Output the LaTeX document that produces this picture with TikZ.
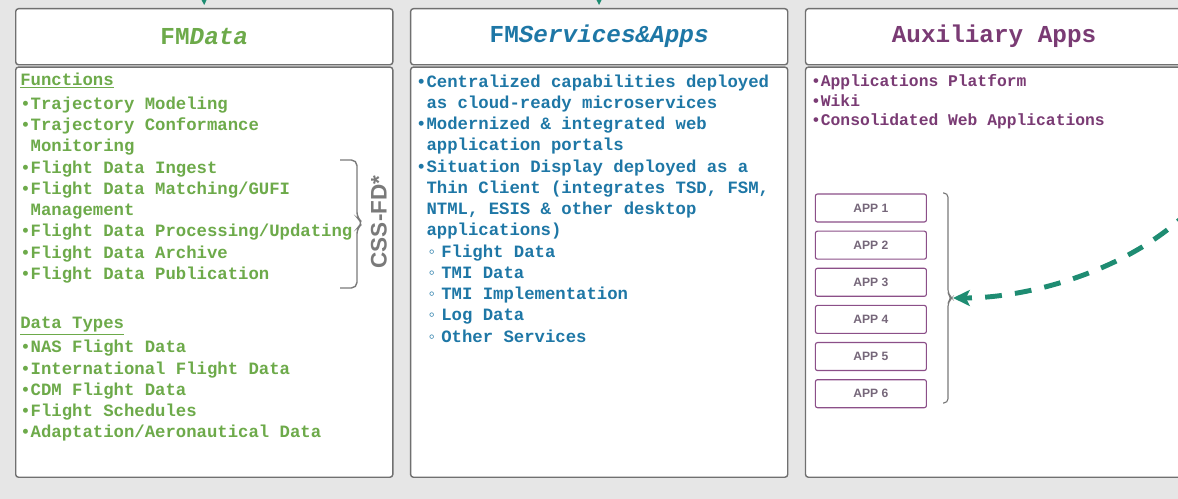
\documentclass[tikz,border=0pt]{standalone}
\usepackage{fontspec}
\setmonofont{Liberation Mono}
\setsansfont{Liberation Sans}
\usepackage{xcolor}
\usetikzlibrary{arrows.meta, positioning}

\definecolor{fundo}{HTML}{E6E6E6}
\definecolor{borda}{HTML}{707070}
\definecolor{verde}{HTML}{6DAA4A}
\definecolor{azul}{HTML}{1E77A6}
\definecolor{roxo}{HTML}{7A3B74}
\definecolor{roxoapp}{HTML}{8B4F88}
\definecolor{cinzaapp}{HTML}{76677A}
\definecolor{verdeseta}{HTML}{1E8C72}
\definecolor{chave}{HTML}{7A7A7A}

\newcommand{\ind}{\hspace*{0.6em}}
\newcommand{\subbul}{\hspace*{0.6em}◦\hspace{0.25em}}

\begin{document}
\begin{tikzpicture}[x=0.025cm, y=-0.025cm,
    caixa/.style={draw=borda, fill=white, line width=1pt, rounded corners=2pt,
        minimum width=9.425cm, inner sep=0pt},
    cabec/.style={caixa, minimum height=1.4cm,
        font=\fontsize{17.3}{20}\selectfont\ttfamily\bfseries},
    corpo/.style={caixa, minimum height=10.25cm},
    texto/.style={align=left, inner sep=0pt,
        font=\fontsize{12.3}{15.1}\selectfont\ttfamily\bfseries},
    textop/.style={align=left, inner sep=0pt,
        font=\fontsize{11.6}{13.9}\selectfont\ttfamily\bfseries},
    app/.style={draw=roxoapp, fill=white, line width=0.8pt, rounded corners=1.5pt,
        minimum width=2.775cm, minimum height=0.7cm, inner sep=0pt,
        text=cinzaapp, font=\fontsize{8.6}{10}\selectfont\sffamily\bfseries},
    setatopo/.style={draw=verdeseta, line width=2pt,
        -{Stealth[length=0.3cm, width=0.3cm]}, shorten >=0.075cm},
    tracejado/.style={draw=verdeseta, line width=3.5pt,
        dash pattern=on 0.42cm off 0.33cm,
        -{Stealth[length=0.42cm, width=0.4cm, inset=0.1cm]}}]

    \useasboundingbox (0,0) rectangle (1178,499);
    \clip (0,0) rectangle (1178,499);
    \fill[fundo] (0,0) rectangle (1178,499);

    % coluna FMData
    \node[cabec, anchor=north west, text=verde] (dadoshdr) at (15,8) {FM\textit{Data}};
    \node[corpo, below=0.025cm of dadoshdr.south west, anchor=north west] (dadoscorpo) {};
    \node[texto, text=verde, below right=0.15cm and 0.125cm of dadoscorpo.north west] (dadostxt) {%
        \underline{Functions}\\[0.075cm]
        •Trajectory Modeling\\
        •Trajectory Conformance\\
        \ind Monitoring\\
        •Flight Data Ingest\\
        •Flight Data Matching/GUFI\\
        \ind Management\\
        •Flight Data Processing/Updating\\
        •Flight Data Archive\\
        •Flight Data Publication\\[0.7cm]
        \underline{Data Types}\\[0.075cm]
        •NAS Flight Data\\
        •International Flight Data\\
        •CDM Flight Data\\
        •Flight Schedules\\
        •Adaptation/Aeronautical Data};

    % chave CSS-FD
    \draw[chave, line width=1pt, rounded corners=4pt]
        (340,160) -- (357,160) -- (357,218) -- (363,223) -- (357,228) -- (357,288) -- (340,288);
    \node[rotate=90, text=chave, font=\fontsize{16}{16}\selectfont\sffamily\bfseries] (cssfd) at (379,222) {CSS-FD*};

    % coluna FMServices&Apps
    \node[cabec, right=0.41cm of dadoshdr, text=azul] (servhdr) {FM\textit{Services\&Apps}};
    \node[corpo, below=0.025cm of servhdr.south west, anchor=north west] (servcorpo) {};
    \node[texto, text=azul, below right=0.2cm and 0.15cm of servcorpo.north west] (servtxt) {%
        •Centralized capabilities deployed\\
        \ind as cloud-ready microservices\\
        •Modernized \& integrated web\\
        \ind application portals\\
        •Situation Display deployed as a\\
        \ind Thin Client (integrates TSD, FSM,\\
        \ind NTML, ESIS \& other desktop\\
        \ind applications)\\
        \subbul Flight Data\\
        \subbul TMI Data\\
        \subbul TMI Implementation\\
        \subbul Log Data\\
        \subbul Other Services};

    % coluna Auxiliary Apps
    \node[cabec, right=0.41cm of servhdr, text=roxo] (auxhdr) {Auxiliary Apps};
    \node[corpo, below=0.025cm of auxhdr.south west, anchor=north west] (auxcorpo) {};
    \node[textop, text=roxo, below right=0.2cm and 0.15cm of auxcorpo.north west] (auxtxt) {%
        •Applications Platform\\
        •Wiki\\
        •Consolidated Web Applications};

    \node[app, below right=3.175cm and 0.25cm of auxcorpo.north west] (app1) {APP 1};
    \foreach \i [evaluate=\i as \j using int(\i-1)] in {2,...,6}
        \node[app, below=0.2cm of app\j] (app\i) {APP \i};

    % chave dos apps
    \draw[chave, line width=0.8pt, rounded corners=3pt]
        (943,193) -- (948,193) -- (948,294) -- (952,298) -- (948,302) -- (948,403) -- (943,403);
    \coordinate (chaveapps) at (953,298);

    % setas
    \coordinate (topoA) at (203.5,-30);
    \coordinate (topoB) at (598.5,-30);
    \draw[setatopo] (topoA) -- (dadoshdr.north);
    \draw[setatopo] (topoB) -- (servhdr.north);

    \coordinate (origem) at (1190,210);
    \draw[tracejado] (origem) .. controls (1130,270) and (1030,298) .. (chaveapps);
\end{tikzpicture}
\end{document}
